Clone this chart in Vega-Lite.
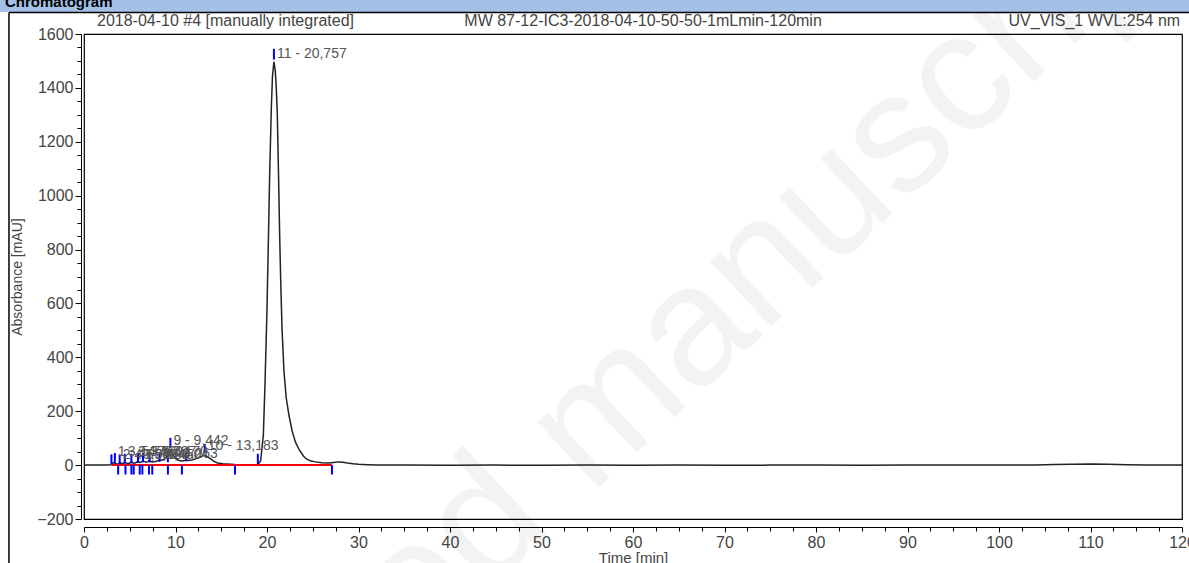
{
  "$schema": "https://vega.github.io/schema/vega-lite/v6.json",
  "width": 1098,
  "height": 485,
  "autosize": {"type": "none"},
  "padding": {"left": 84, "top": 34, "right": 7, "bottom": 44},
  "background": "white",
  "config": {
    "view": {"stroke": "#000", "strokeWidth": 1.2},
    "font": "Liberation Sans",
    "axis": {"grid": false, "zindex": 1}
  },
  "datasets": {
    "curve": [
      {"t": 0, "v": 0}, {"t": 0.5, "v": 0}, {"t": 1, "v": 0.5}, {"t": 1.5, "v": 0}, {"t": 2, "v": 0.5}, {"t": 2.5, "v": 0}, {"t": 2.9, "v": 1},
      {"t": 3.0, "v": 5}, {"t": 3.15, "v": 8}, {"t": 3.3, "v": 9}, {"t": 3.45, "v": 6}, {"t": 3.6, "v": 4}, {"t": 3.73, "v": 3}, {"t": 3.9, "v": 10},
      {"t": 4.05, "v": 7}, {"t": 4.2, "v": 5}, {"t": 4.35, "v": 8}, {"t": 4.46, "v": 12}, {"t": 4.6, "v": 8}, {"t": 4.75, "v": 6}, {"t": 4.95, "v": 7},
      {"t": 5.18, "v": 13}, {"t": 5.3, "v": 9}, {"t": 5.43, "v": 7}, {"t": 5.65, "v": 9}, {"t": 5.9, "v": 14}, {"t": 6.09, "v": 10}, {"t": 6.25, "v": 11},
      {"t": 6.45, "v": 16}, {"t": 6.6, "v": 13}, {"t": 6.8, "v": 11}, {"t": 7.0, "v": 13}, {"t": 7.17, "v": 17}, {"t": 7.3, "v": 14}, {"t": 7.46, "v": 12},
      {"t": 7.8, "v": 13}, {"t": 8.0, "v": 15}, {"t": 8.26, "v": 20}, {"t": 8.5, "v": 18}, {"t": 8.8, "v": 22}, {"t": 9.0, "v": 30}, {"t": 9.17, "v": 38},
      {"t": 9.3, "v": 48}, {"t": 9.442, "v": 55}, {"t": 9.6, "v": 47}, {"t": 9.8, "v": 34}, {"t": 10.0, "v": 25}, {"t": 10.3, "v": 18}, {"t": 10.7, "v": 15},
      {"t": 11.0, "v": 17}, {"t": 11.16, "v": 19}, {"t": 11.4, "v": 17}, {"t": 11.8, "v": 19}, {"t": 12.2, "v": 23}, {"t": 12.6, "v": 29}, {"t": 13.0, "v": 35},
      {"t": 13.183, "v": 37}, {"t": 13.4, "v": 33}, {"t": 13.8, "v": 24}, {"t": 14.2, "v": 14}, {"t": 14.6, "v": 8}, {"t": 15.2, "v": 5}, {"t": 16.0, "v": 3},
      {"t": 16.5, "v": 2}, {"t": 17.5, "v": 1}, {"t": 18.5, "v": 1}, {"t": 19.0, "v": 2}, {"t": 19.3, "v": 15}, {"t": 19.6, "v": 110}, {"t": 19.78, "v": 300},
      {"t": 20.0, "v": 580}, {"t": 20.15, "v": 830}, {"t": 20.29, "v": 1078}, {"t": 20.47, "v": 1322}, {"t": 20.6, "v": 1445}, {"t": 20.757, "v": 1497},
      {"t": 20.9, "v": 1465}, {"t": 21.0, "v": 1410}, {"t": 21.12, "v": 1310}, {"t": 21.26, "v": 1078}, {"t": 21.38, "v": 860}, {"t": 21.5, "v": 680},
      {"t": 21.65, "v": 500}, {"t": 21.85, "v": 350}, {"t": 22.1, "v": 250}, {"t": 22.4, "v": 185}, {"t": 22.75, "v": 126}, {"t": 23.1, "v": 86},
      {"t": 23.5, "v": 58}, {"t": 24.0, "v": 33}, {"t": 24.35, "v": 22}, {"t": 24.8, "v": 15}, {"t": 25.3, "v": 12}, {"t": 26.0, "v": 9}, {"t": 26.7, "v": 8},
      {"t": 27.3, "v": 10}, {"t": 27.8, "v": 12}, {"t": 28.3, "v": 11}, {"t": 28.8, "v": 8}, {"t": 29.4, "v": 5}, {"t": 30, "v": 3}, {"t": 31, "v": 1.5},
      {"t": 32, "v": 0.5}, {"t": 35, "v": 0}, {"t": 40, "v": -0.5}, {"t": 45, "v": 0}, {"t": 50, "v": -0.5}, {"t": 55, "v": 0}, {"t": 60, "v": -0.5},
      {"t": 65, "v": 0}, {"t": 70, "v": -0.5}, {"t": 75, "v": 0}, {"t": 80, "v": 0}, {"t": 85, "v": -0.5}, {"t": 90, "v": 0.5}, {"t": 95, "v": 0},
      {"t": 100, "v": 0}, {"t": 104, "v": 0.5}, {"t": 106, "v": 2}, {"t": 108, "v": 3.5}, {"t": 110, "v": 4}, {"t": 112, "v": 3}, {"t": 114, "v": 1},
      {"t": 116, "v": 0}, {"t": 120, "v": 0}
    ],
    "baseline": [{"t": 3.0, "t2": 27.1, "v": 0}],
    "delims": [
      {"t": 3.0, "lo": 3, "hi": 40}, {"t": 3.37, "lo": 8, "hi": 45}, {"t": 3.9, "lo": 4, "hi": 40}, {"t": 4.46, "lo": 5, "hi": 42},
      {"t": 5.18, "lo": 6, "hi": 42}, {"t": 5.9, "lo": 8, "hi": 45}, {"t": 6.45, "lo": 10, "hi": 46}, {"t": 7.17, "lo": 10, "hi": 48},
      {"t": 8.26, "lo": 12, "hi": 48}, {"t": 9.17, "lo": 11, "hi": 48}, {"t": 9.442, "lo": 64, "hi": 101}, {"t": 11.16, "lo": 14, "hi": 50},
      {"t": 13.2, "lo": 44, "hi": 78}, {"t": 19.0, "lo": 3, "hi": 42}, {"t": 20.757, "lo": 1505, "hi": 1545},
      {"t": 3.73, "lo": -35, "hi": 0}, {"t": 4.53, "lo": -35, "hi": 0}, {"t": 5.18, "lo": -35, "hi": 0}, {"t": 5.43, "lo": -35, "hi": 0},
      {"t": 6.09, "lo": -35, "hi": 0}, {"t": 6.38, "lo": -35, "hi": 0}, {"t": 7.1, "lo": -35, "hi": 0}, {"t": 7.46, "lo": -35, "hi": 0},
      {"t": 9.17, "lo": -35, "hi": 0}, {"t": 10.7, "lo": -35, "hi": 0}, {"t": 16.5, "lo": -35, "hi": 0}, {"t": 27.1, "lo": -35, "hi": 0}
    ],
    "labels": [
      {"t": 20.757, "v": 1525, "label": "11 - 20,757"},
      {"t": 9.442, "v": 88, "label": "9 - 9,442"},
      {"t": 13.2, "v": 72, "label": "10 - 13,183"},
      {"t": 3.37, "v": 50, "label": "1 - 3,370"},
      {"t": 3.9, "v": 36, "label": "2 - 3,903"},
      {"t": 4.46, "v": 50, "label": "3 - 4,460"},
      {"t": 5.18, "v": 36, "label": "4 - 5,180"},
      {"t": 5.9, "v": 50, "label": "5 - 5,897"},
      {"t": 6.45, "v": 36, "label": "6 - 6,450"},
      {"t": 7.17, "v": 50, "label": "7 - 7,170"},
      {"t": 8.26, "v": 40, "label": "8 - 8,263"}
    ],
    "hleft": [{"t": 1.42, "v": 1648, "label": "2018-04-10 #4 [manually integrated]"}],
    "hcenter": [{"t": 61.1, "v": 1648, "label": "MW 87-12-IC3-2018-04-10-50-50-1mLmin-120min"}],
    "hright": [{"t": 119.8, "v": 1648, "label": "UV_VIS_1 WVL:254 nm"}],
    "frame": [
      {"t": -8.2, "t2": -8.2, "v": -400, "v2": 1680},
      {"t": -8.2, "t2": 122, "v": 1680, "v2": 1680}
    ],
    "band": [{"t": -9.5, "t2": 122, "v": 1682, "v2": 1740}],
    "bandtext": [{"t": -8.63, "v": 1700, "label": "Chromatogram"}],
    "wm": [{"t": 54.5, "v": 120, "label": "Accepted manuscript"}]
  },
  "layer": [
    {
      "data": {"name": "wm"},
      "mark": {"type": "text", "angle": 317, "fontSize": 170, "color": "#000", "opacity": 0.045, "align": "center", "baseline": "middle"},
      "encoding": {
        "x": {"field": "t", "type": "quantitative", "scale": {"domain": [0, 120], "nice": false}, "axis": null},
        "y": {"field": "v", "type": "quantitative", "scale": {"domain": [-200, 1600], "nice": false}, "axis": null},
        "text": {"field": "label"}
      }
    },
    {
      "data": {"name": "band"},
      "mark": {"type": "rect", "color": "#a3c0e6"},
      "encoding": {
        "x": {"field": "t", "type": "quantitative", "scale": {"domain": [0, 120], "nice": false}, "axis": null},
        "x2": {"field": "t2"},
        "y": {"field": "v", "type": "quantitative", "scale": {"domain": [-200, 1600], "nice": false}, "axis": null},
        "y2": {"field": "v2"}
      }
    },
    {
      "data": {"name": "bandtext"},
      "mark": {"type": "text", "fontSize": 15, "fontWeight": "bold", "color": "#000", "align": "left", "baseline": "alphabetic"},
      "encoding": {
        "x": {"field": "t", "type": "quantitative", "scale": {"domain": [0, 120], "nice": false}, "axis": null},
        "y": {"field": "v", "type": "quantitative", "scale": {"domain": [-200, 1600], "nice": false}, "axis": null},
        "text": {"field": "label"}
      }
    },
    {
      "data": {"name": "frame"},
      "mark": {"type": "rule", "color": "#000", "strokeWidth": 1.5},
      "encoding": {
        "x": {"field": "t", "type": "quantitative", "scale": {"domain": [0, 120], "nice": false}, "axis": null},
        "x2": {"field": "t2"},
        "y": {"field": "v", "type": "quantitative", "scale": {"domain": [-200, 1600], "nice": false}, "axis": null},
        "y2": {"field": "v2"}
      }
    },
    {
      "data": {"name": "curve"},
      "mark": {"type": "line", "color": "#222", "strokeWidth": 1.5},
      "encoding": {
        "x": {
          "field": "t", "type": "quantitative", "scale": {"domain": [0, 120], "nice": false},
          "axis": {
            "orient": "bottom", "offset": 8, "values": [0, 10, 20, 30, 40, 50, 60, 70, 80, 90, 100, 110, 120], "format": "d",
            "tickSize": 5, "tickColor": "#000", "domainColor": "#000", "labelFontSize": 16, "labelColor": "#444",
            "labelPadding": 2, "labelFlush": false, "labelOverlap": false, "title": "Time [min]", "titleFontSize": 15,
            "titleFontWeight": "normal", "titleColor": "#444", "titlePadding": 0
          }
        },
        "y": {
          "field": "v", "type": "quantitative", "scale": {"domain": [-200, 1600], "nice": false},
          "axis": {
            "orient": "left", "offset": 3, "values": [-200, 0, 200, 400, 600, 800, 1000, 1200, 1400, 1600], "format": "d",
            "tickSize": 6, "tickColor": "#000", "domainColor": "#000", "labelFontSize": 16, "labelColor": "#444",
            "labelPadding": 2, "labelFlush": false, "labelOverlap": false, "title": "Absorbance [mAU]", "titleFontSize": 14,
            "titleFontWeight": "normal", "titleColor": "#444", "titlePadding": 12
          }
        }
      }
    },
    {
      "data": {"name": "curve"},
      "mark": {"type": "point", "opacity": 0},
      "encoding": {
        "x": {
          "field": "t", "type": "quantitative", "scale": {"domain": [0, 120], "nice": false},
          "axis": {
            "orient": "bottom", "offset": 8, "values": [2.5, 5, 7.5, 12.5, 15, 17.5, 22.5, 25, 27.5, 32.5, 35, 37.5, 42.5, 45, 47.5, 52.5, 55, 57.5, 62.5, 65, 67.5, 72.5, 75, 77.5, 82.5, 85, 87.5, 92.5, 95, 97.5, 102.5, 105, 107.5, 112.5, 115, 117.5],
            "tickSize": 4, "tickColor": "#000", "domain": false, "labels": false, "title": null
          }
        },
        "y": {
          "field": "v", "type": "quantitative", "scale": {"domain": [-200, 1600], "nice": false},
          "axis": {
            "orient": "left", "offset": 3, "values": [-150, -100, -50, 50, 100, 150, 250, 300, 350, 450, 500, 550, 650, 700, 750, 850, 900, 950, 1050, 1100, 1150, 1250, 1300, 1350, 1450, 1500, 1550],
            "tickSize": 4, "tickColor": "#000", "domain": false, "labels": false, "title": null
          }
        }
      }
    },
    {
      "data": {"name": "baseline"},
      "mark": {"type": "rule", "color": "#ff0000", "strokeWidth": 2},
      "encoding": {
        "x": {"field": "t", "type": "quantitative", "scale": {"domain": [0, 120], "nice": false}, "axis": null},
        "x2": {"field": "t2"},
        "y": {"field": "v", "type": "quantitative", "scale": {"domain": [-200, 1600], "nice": false}, "axis": null}
      }
    },
    {
      "data": {"name": "delims"},
      "mark": {"type": "rule", "color": "#0000ff", "strokeWidth": 2},
      "encoding": {
        "x": {"field": "t", "type": "quantitative", "scale": {"domain": [0, 120], "nice": false}, "axis": null},
        "y": {"field": "lo", "type": "quantitative", "scale": {"domain": [-200, 1600], "nice": false}, "axis": null},
        "y2": {"field": "hi"}
      }
    },
    {
      "data": {"name": "labels"},
      "mark": {"type": "text", "fontSize": 14, "color": "#555", "align": "left", "baseline": "middle", "dx": 3},
      "encoding": {
        "x": {"field": "t", "type": "quantitative", "scale": {"domain": [0, 120], "nice": false}, "axis": null},
        "y": {"field": "v", "type": "quantitative", "scale": {"domain": [-200, 1600], "nice": false}, "axis": null},
        "text": {"field": "label"}
      }
    },
    {
      "data": {"name": "hleft"},
      "mark": {"type": "text", "fontSize": 16, "color": "#444", "baseline": "middle", "align": "left"},
      "encoding": {
        "x": {"field": "t", "type": "quantitative", "scale": {"domain": [0, 120], "nice": false}, "axis": null},
        "y": {"field": "v", "type": "quantitative", "scale": {"domain": [-200, 1600], "nice": false}, "axis": null},
        "text": {"field": "label"}
      }
    },
    {
      "data": {"name": "hcenter"},
      "mark": {"type": "text", "fontSize": 16, "color": "#444", "baseline": "middle", "align": "center"},
      "encoding": {
        "x": {"field": "t", "type": "quantitative", "scale": {"domain": [0, 120], "nice": false}, "axis": null},
        "y": {"field": "v", "type": "quantitative", "scale": {"domain": [-200, 1600], "nice": false}, "axis": null},
        "text": {"field": "label"}
      }
    },
    {
      "data": {"name": "hright"},
      "mark": {"type": "text", "fontSize": 16, "color": "#444", "baseline": "middle", "align": "right"},
      "encoding": {
        "x": {"field": "t", "type": "quantitative", "scale": {"domain": [0, 120], "nice": false}, "axis": null},
        "y": {"field": "v", "type": "quantitative", "scale": {"domain": [-200, 1600], "nice": false}, "axis": null},
        "text": {"field": "label"}
      }
    }
  ],
  "resolve": {"axis": {"x": "independent", "y": "independent"}}
}
